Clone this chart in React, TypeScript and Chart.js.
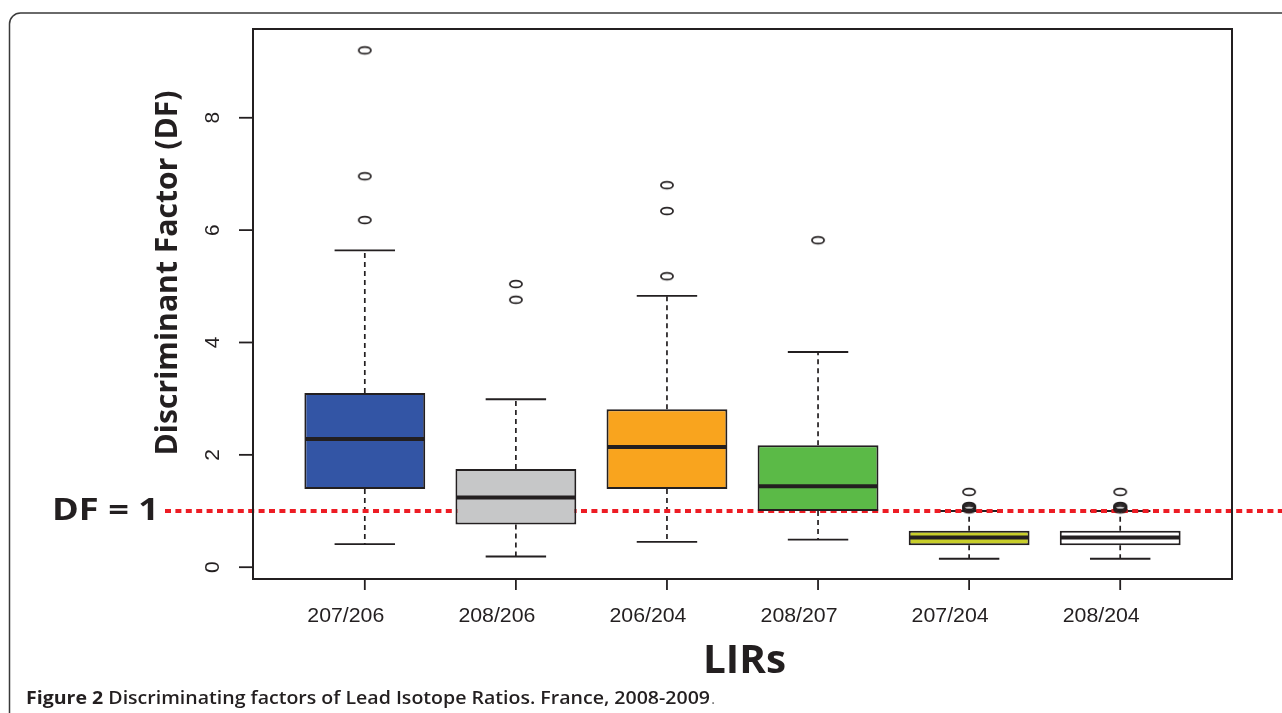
import React, { useEffect, useRef } from "react";
import { Chart, registerables } from "chart.js";

Chart.register(...registerables);

// ---- data ----
const categories = ["207/206", "208/206", "206/204", "208/207", "207/204", "208/204"];
const q1Values = [1.39, 0.76, 1.39, 1.0, 0.39, 0.39];
const medianValues = [2.28, 1.24, 2.14, 1.44, 0.53, 0.53];
const q3Values = [3.1, 1.75, 2.81, 2.17, 0.65, 0.65];
const whiskerLow = [0.41, 0.19, 0.45, 0.49, 0.15, 0.15];
const whiskerHigh = [5.64, 2.99, 4.83, 3.83, 1.0, 1.0];
const outlierValues = [
  [9.2, 6.96, 6.18],
  [5.04, 4.76],
  [6.8, 6.34, 5.18],
  [5.82],
  [1.34, 1.09, 1.07, 1.05, 1.03],
  [1.34, 1.09, 1.07, 1.05, 1.03],
];
const boxColors = ["#3355A5", "#C6C7C8", "#F9A41E", "#5BBA47", "#C8CE2A", "#FFFFFF"];
const yTicks = [0, 2, 4, 6, 8];
const thresholdValue = 1;
const yTitle = "Discriminant Factor (DF)";
const xTitle = "LIRs";
const thresholdLabel = "DF = 1";
const captionBold = "Figure 2 ";
const captionText = "Discriminating factors of Lead Isotope Ratios. France, 2008-2009";

const INK = "#231F20";

function makeEllipse(): HTMLCanvasElement {
  const c = document.createElement("canvas");
  c.width = 18;
  c.height = 12;
  const g = c.getContext("2d")!;
  g.strokeStyle = INK;
  g.lineWidth = 1.7;
  g.beginPath();
  g.ellipse(9, 6, 6.1, 3.4, 0, 0, Math.PI * 2);
  g.stroke();
  return c;
}

function drawFitted(
  ctx: CanvasRenderingContext2D,
  text: string,
  x: number,
  y: number,
  font: string,
  color: string,
  width: number | null,
  align: CanvasTextAlign
) {
  ctx.save();
  ctx.font = font;
  ctx.fillStyle = color;
  ctx.textBaseline = "alphabetic";
  ctx.textAlign = align;
  const w = ctx.measureText(text).width;
  const sx = width ? width / w : 1;
  ctx.translate(x, y);
  ctx.scale(sx, 1);
  ctx.fillText(text, 0, 0);
  ctx.restore();
}

const boxPlugin = {
  id: "boxDecor",
  beforeDatasetsDraw(chart: any) {
    const { ctx, scales } = chart;
    const xs = scales.x;
    const ys = scales.y;
    ctx.save();
    // whiskers
    categories.forEach((_, i) => {
      const cx = xs.getPixelForValue(i + 1);
      const capL = xs.getPixelForValue(i + 1 - 0.2);
      const capR = xs.getPixelForValue(i + 1 + 0.2);
      ctx.strokeStyle = INK;
      ctx.lineWidth = 1.7;
      ctx.setLineDash([5, 4]);
      ctx.beginPath();
      ctx.moveTo(cx, ys.getPixelForValue(q3Values[i]));
      ctx.lineTo(cx, ys.getPixelForValue(whiskerHigh[i]));
      ctx.moveTo(cx, ys.getPixelForValue(q1Values[i]));
      ctx.lineTo(cx, ys.getPixelForValue(whiskerLow[i]));
      ctx.stroke();
      ctx.setLineDash([]);
      ctx.lineWidth = 1.9;
      ctx.beginPath();
      const yh = ys.getPixelForValue(whiskerHigh[i]);
      const yl = ys.getPixelForValue(whiskerLow[i]);
      ctx.moveTo(capL, yh);
      ctx.lineTo(capR, yh);
      ctx.moveTo(capL, yl);
      ctx.lineTo(capR, yl);
      ctx.stroke();
    });
    // threshold line
    const yt = ys.getPixelForValue(thresholdValue);
    ctx.strokeStyle = "#ED1C24";
    ctx.lineWidth = 4;
    ctx.setLineDash([6, 4.4]);
    ctx.beginPath();
    ctx.moveTo(165, yt);
    ctx.lineTo(chart.width, yt);
    ctx.stroke();
    ctx.setLineDash([]);
    ctx.restore();
  },
  afterDatasetsDraw(chart: any) {
    const { ctx, scales, chartArea } = chart;
    const xs = scales.x;
    const ys = scales.y;
    ctx.save();
    // medians
    categories.forEach((_, i) => {
      const l = xs.getPixelForValue(i + 1 - 0.4);
      const r = xs.getPixelForValue(i + 1 + 0.4);
      const ym = ys.getPixelForValue(medianValues[i]);
      ctx.strokeStyle = INK;
      ctx.lineWidth = 4;
      ctx.beginPath();
      ctx.moveTo(l + 1, ym);
      ctx.lineTo(r - 1, ym);
      ctx.stroke();
    });
    // plot frame
    ctx.strokeStyle = INK;
    ctx.lineWidth = 2;
    ctx.strokeRect(chartArea.left, chartArea.top, chartArea.right - chartArea.left, chartArea.bottom - chartArea.top);
    // y ticks
    ctx.lineWidth = 1.8;
    yTicks.forEach((t) => {
      const y = ys.getPixelForValue(t);
      ctx.beginPath();
      ctx.moveTo(chartArea.left - 14, y);
      ctx.lineTo(chartArea.left, y);
      ctx.stroke();
      ctx.save();
      ctx.translate(chartArea.left - 34, y);
      ctx.rotate(-Math.PI / 2);
      ctx.font = "21px 'Liberation Sans', Arial, sans-serif";
      ctx.fillStyle = INK;
      ctx.textAlign = "center";
      ctx.textBaseline = "alphabetic";
      ctx.fillText(String(t), 0, 0);
      ctx.restore();
    });
    // x ticks + labels
    categories.forEach((c, i) => {
      const x = xs.getPixelForValue(i + 1);
      ctx.beginPath();
      ctx.moveTo(x, chartArea.bottom);
      ctx.lineTo(x, chartArea.bottom + 11);
      ctx.stroke();
      drawFitted(ctx, c, x - 19, chartArea.bottom + 43, "19.5px 'Liberation Sans', Arial, sans-serif", INK, 77, "center");
    });
    // y title
    ctx.save();
    ctx.translate(177, (chartArea.top + chartArea.bottom) / 2 - 31);
    ctx.rotate(-Math.PI / 2);
    drawFitted(ctx, yTitle, 0, 0, "bold 31px 'Open Sans', sans-serif", INK, 365, "center");
    ctx.restore();
    // threshold label
    drawFitted(ctx, thresholdLabel, 52, ys.getPixelForValue(thresholdValue) + 9, "bold 30px 'Open Sans', sans-serif", INK, 107, "left");
    // x title
    drawFitted(ctx, xTitle, (chartArea.left + chartArea.right) / 2 + 2, 673, "bold 40px 'Open Sans', sans-serif", INK, 83, "center");
    // caption
    ctx.save();
    const fb = "bold 18px 'Open Sans', sans-serif";
    const fr = "600 18px 'Open Sans', sans-serif";
    ctx.font = fb;
    const w1 = ctx.measureText(captionBold).width;
    ctx.font = fr;
    const w2 = ctx.measureText(captionText).width;
    const sx = 684 / (w1 + w2);
    ctx.translate(26, 704);
    ctx.scale(sx, 1);
    ctx.fillStyle = INK;
    ctx.textAlign = "left";
    ctx.font = fb;
    ctx.fillText(captionBold, 0, 0);
    ctx.font = fr;
    ctx.fillText(captionText, w1, 0);
    ctx.fillStyle = "#777";
    ctx.font = "15px 'Open Sans', sans-serif";
    ctx.fillText(".", w1 + w2 + 1, 0);
    ctx.restore();
    // outer rounded frame
    ctx.strokeStyle = "#3a3a3a";
    ctx.lineWidth = 1.5;
    const r = 11;
    ctx.beginPath();
    ctx.moveTo(9.5, chart.height + 5);
    ctx.lineTo(9.5, 13 + r);
    ctx.arcTo(9.5, 13, 9.5 + r, 13, r);
    ctx.lineTo(chart.width + 5, 13);
    ctx.stroke();
    ctx.restore();
  },
};

export default function App() {
  const ref = useRef<HTMLCanvasElement | null>(null);
  useEffect(() => {
    if (!ref.current) return;
    const ellipse = makeEllipse();
    const outlierPoints: { x: number; y: number }[] = [];
    outlierValues.forEach((arr, i) => arr.forEach((v) => outlierPoints.push({ x: i + 1, y: v })));
    const chart = new Chart(ref.current, {
      type: "bar",
      data: {
        datasets: [
          {
            type: "scatter",
            data: outlierPoints,
            pointStyle: ellipse as any,
            pointRadius: 6,
            showLine: false,
          } as any,
          {
            type: "bar",
            data: categories.map((_, i) => ({ x: i + 1, y: [q1Values[i], q3Values[i]] })) as any,
            backgroundColor: boxColors,
            borderColor: INK,
            borderWidth: 2,
            borderSkipped: false,
            categoryPercentage: 1,
            barPercentage: 0.8,
            grouped: false,
          } as any,
        ],
      },
      options: {
        animation: false,
        responsive: false,
        devicePixelRatio: 1,
        layout: { padding: { left: 253, right: 50, top: 29, bottom: 134 } },
        plugins: { legend: { display: false }, tooltip: { enabled: false } },
        scales: {
          x: {
            type: "linear",
            min: 0.26,
            max: 6.74,
            offset: false,
            display: false,
            ticks: { stepSize: 1, includeBounds: false } as any,
          },
          y: { type: "linear", min: -0.21, max: 9.58, display: false },
        },
      },
      plugins: [boxPlugin],
    });
    return () => chart.destroy();
  }, []);
  return (
    <div style={{ position: "fixed", left: 0, top: 0, width: 1282, height: 713, background: "#fff" }}>
      <canvas ref={ref} width={1282} height={713} />
    </div>
  );
}
